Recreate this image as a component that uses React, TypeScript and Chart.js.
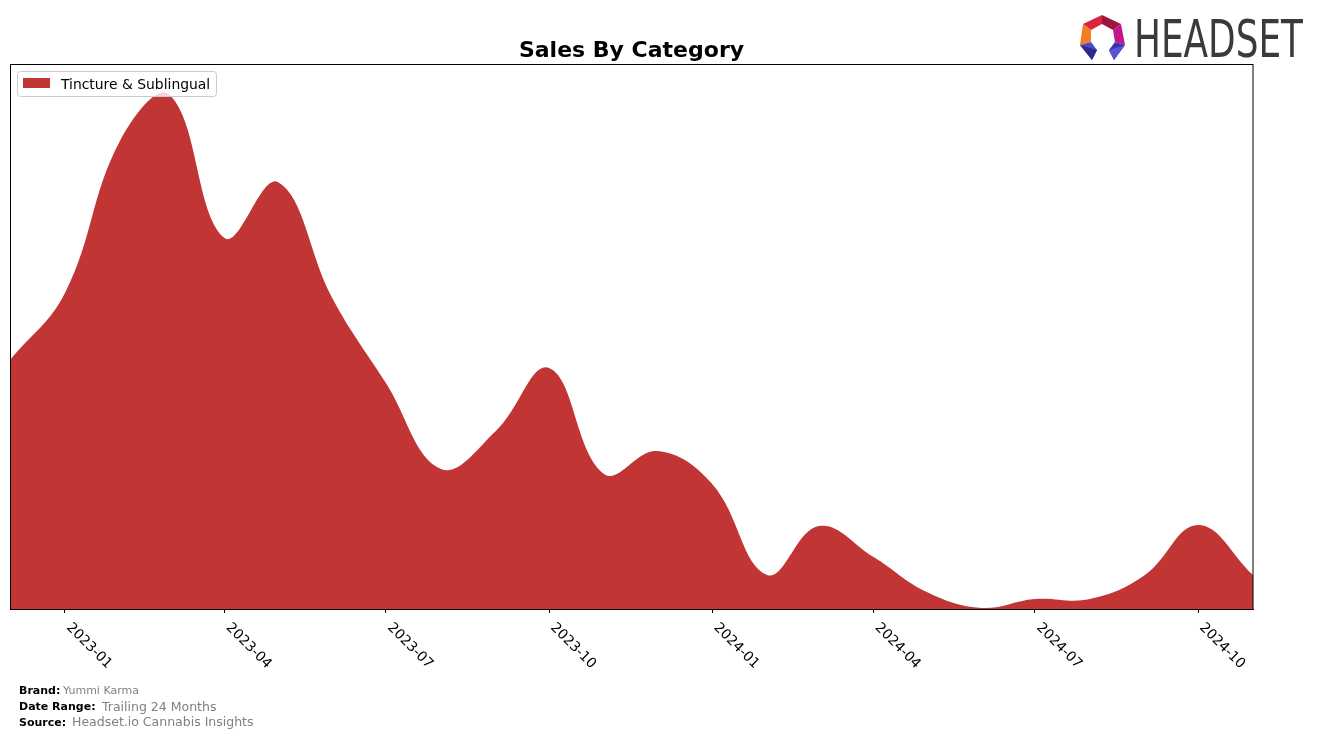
import React, { useEffect, useRef } from "react";
import { Chart, registerables } from "chart.js";

Chart.register(...registerables);

// ---- data ----
const months: string[] = [
  "2022-12", "2023-01", "2023-02", "2023-03", "2023-04", "2023-05", "2023-06", "2023-07",
  "2023-08", "2023-09", "2023-10", "2023-11", "2023-12", "2024-01", "2024-02", "2024-03",
  "2024-04", "2024-05", "2024-06", "2024-07", "2024-08", "2024-09", "2024-10", "2024-11",
];
const salesValues: number[] = [
  249, 316, 468, 514, 371, 427, 310, 226,
  140, 178, 241, 135, 158, 125, 34, 83,
  52, 17, 1, 10, 10, 34, 84, 34,
];
const tickMonths: string[] = ["2023-01", "2023-04", "2023-07", "2023-10", "2024-01", "2024-04", "2024-07", "2024-10"];
const tickLabels: string[] = ["2023-01", "2023-04", "2023-07", "2023-10", "2024-01", "2024-04", "2024-07", "2024-10"];
const seriesLabel = "Tincture & Sublingual";
const yMax = 545;

const SERIES_COLOR = "#c13535";
const FONT = '"DejaVu Sans", sans-serif';

function monthToDay(m: string): number {
  const [y, mo] = m.split("-").map(Number);
  return Date.UTC(y, mo - 1, 1) / 86400000;
}

const decorPlugin = {
  id: "decor",
  afterDraw(chart: any) {
    const ctx: CanvasRenderingContext2D = chart.ctx;
    const a = chart.chartArea;
    const xs = chart.scales.x;
    ctx.save();

    // frame
    ctx.strokeStyle = "#000";
    ctx.lineWidth = 1;
    ctx.strokeRect(a.left + 0.5, a.top + 0.5, a.right - a.left - 0.5, a.bottom - a.top);

    // title
    ctx.fillStyle = "#000";
    ctx.font = `bold 22px ${FONT}`;
    ctx.textAlign = "center";
    ctx.textBaseline = "alphabetic";
    ctx.fillText("Sales By Category", (a.left + a.right) / 2, 57);

    // legend
    ctx.beginPath();
    const lx = 17.5, ly = 71.5, lw = 199, lh = 25, r = 3;
    ctx.moveTo(lx + r, ly);
    ctx.lineTo(lx + lw - r, ly);
    ctx.arcTo(lx + lw, ly, lx + lw, ly + r, r);
    ctx.lineTo(lx + lw, ly + lh - r);
    ctx.arcTo(lx + lw, ly + lh, lx + lw - r, ly + lh, r);
    ctx.lineTo(lx + r, ly + lh);
    ctx.arcTo(lx, ly + lh, lx, ly + lh - r, r);
    ctx.lineTo(lx, ly + r);
    ctx.arcTo(lx, ly, lx + r, ly, r);
    ctx.closePath();
    ctx.fillStyle = "rgba(255,255,255,0.8)";
    ctx.fill();
    ctx.strokeStyle = "#cccccc";
    ctx.stroke();
    ctx.fillStyle = SERIES_COLOR;
    ctx.fillRect(23, 78, 27, 10);
    ctx.fillStyle = "#000";
    ctx.font = `13.9px ${FONT}`;
    ctx.textAlign = "left";
    ctx.fillText(seriesLabel, 61, 89);

    // x tick labels (rotated -45 deg, matplotlib style)
    ctx.font = `13.9px ${FONT}`;
    tickMonths.forEach((m, i) => {
      const px = xs.getPixelForValue(monthToDay(m));
      ctx.save();
      ctx.translate(px + 1, a.bottom + 19);
      ctx.rotate(Math.PI / 4);
      ctx.textAlign = "left";
      ctx.textBaseline = "alphabetic";
      ctx.fillText(tickLabels[i], 0, 0);
      ctx.restore();
    });

    // footer
    ctx.textAlign = "left";
    ctx.fillStyle = "#000";
    ctx.font = `bold 11px ${FONT}`;
    ctx.fillText("Brand:", 19, 694);
    ctx.fillText("Date Range:", 19, 710);
    ctx.fillText("Source:", 19, 726);
    ctx.fillStyle = "#808080";
    ctx.font = `11px ${FONT}`;
    ctx.fillText("Yummi Karma", 63, 694);
    ctx.font = `12.5px ${FONT}`;
    ctx.fillText("Trailing 24 Months", 102, 711);
    ctx.fillText("Headset.io Cannabis Insights", 72, 726);

    // logo icon
    const poly = (pts: number[][], color: string) => {
      ctx.beginPath();
      ctx.moveTo(pts[0][0], pts[0][1]);
      for (let k = 1; k < pts.length; k++) ctx.lineTo(pts[k][0], pts[k][1]);
      ctx.closePath();
      ctx.fillStyle = color;
      ctx.fill();
    };
    poly([[1083, 24], [1102, 15], [1102, 24], [1091, 30]], "#d8243c");
    poly([[1102, 15], [1121, 24], [1113, 30], [1102, 24]], "#a0143f");
    poly([[1083, 24], [1091, 30], [1091, 42], [1080, 45]], "#f47d22");
    poly([[1121, 24], [1125, 45], [1115, 42], [1113, 30]], "#c0188a");
    poly([[1080, 45], [1091, 42], [1097, 50], [1092, 60]], "#4f48c8");
    poly([[1125, 45], [1115, 42], [1109, 50], [1114, 60]], "#3a32a8");
    poly([[1080, 45], [1097, 50], [1092, 60]], "#2d2a8a");
    poly([[1125, 45], [1109, 50], [1114, 60]], "#5a52d0");

    // logo text
    ctx.fillStyle = "#3a3a3a";
    ctx.font = `51px ${FONT}`;
    const w = ctx.measureText("HEADSET").width;
    ctx.save();
    ctx.translate(1134, 57);
    ctx.scale(169 / w, 1);
    ctx.textAlign = "left";
    ctx.fillText("HEADSET", 0, 0);
    ctx.restore();

    ctx.restore();
  },
};

export default function App() {
  const ref = useRef<HTMLCanvasElement>(null);
  useEffect(() => {
    if (!ref.current) return;
    const chart = new Chart(ref.current, {
      type: "line",
      data: {
        datasets: [
          {
            label: seriesLabel,
            data: months.map((m, i) => ({ x: monthToDay(m), y: salesValues[i] })),
            backgroundColor: SERIES_COLOR,
            borderColor: SERIES_COLOR,
            borderWidth: 0,
            pointRadius: 0,
            fill: "origin",
            tension: 0.4,
          },
        ],
      },
      options: {
        animation: false,
        responsive: false,
        devicePixelRatio: 1,
        layout: { padding: { left: 10, right: 64, top: 64, bottom: 125 } },
        plugins: {
          legend: { display: false },
          title: { display: false },
          tooltip: { enabled: false },
        },
        scales: {
          x: {
            type: "linear",
            min: monthToDay(months[0]),
            max: monthToDay(months[months.length - 1]),
            afterBuildTicks: (axis: any) => {
              axis.ticks = tickMonths.map((m) => ({ value: monthToDay(m) }));
            },
            ticks: { display: false },
            grid: { drawOnChartArea: false, drawTicks: true, tickLength: 4, color: "#000", tickWidth: 1 },
            border: { display: true, color: "#000", width: 1 },
          },
          y: { display: false, min: 0, max: yMax },
        },
      },
      plugins: [decorPlugin],
    } as any);
    return () => chart.destroy();
  }, []);
  return (
    <div style={{ position: "absolute", left: 0, top: 0, width: 1317, height: 738 }}>
      <canvas ref={ref} width={1317} height={738} style={{ width: 1317, height: 738 }} />
    </div>
  );
}
